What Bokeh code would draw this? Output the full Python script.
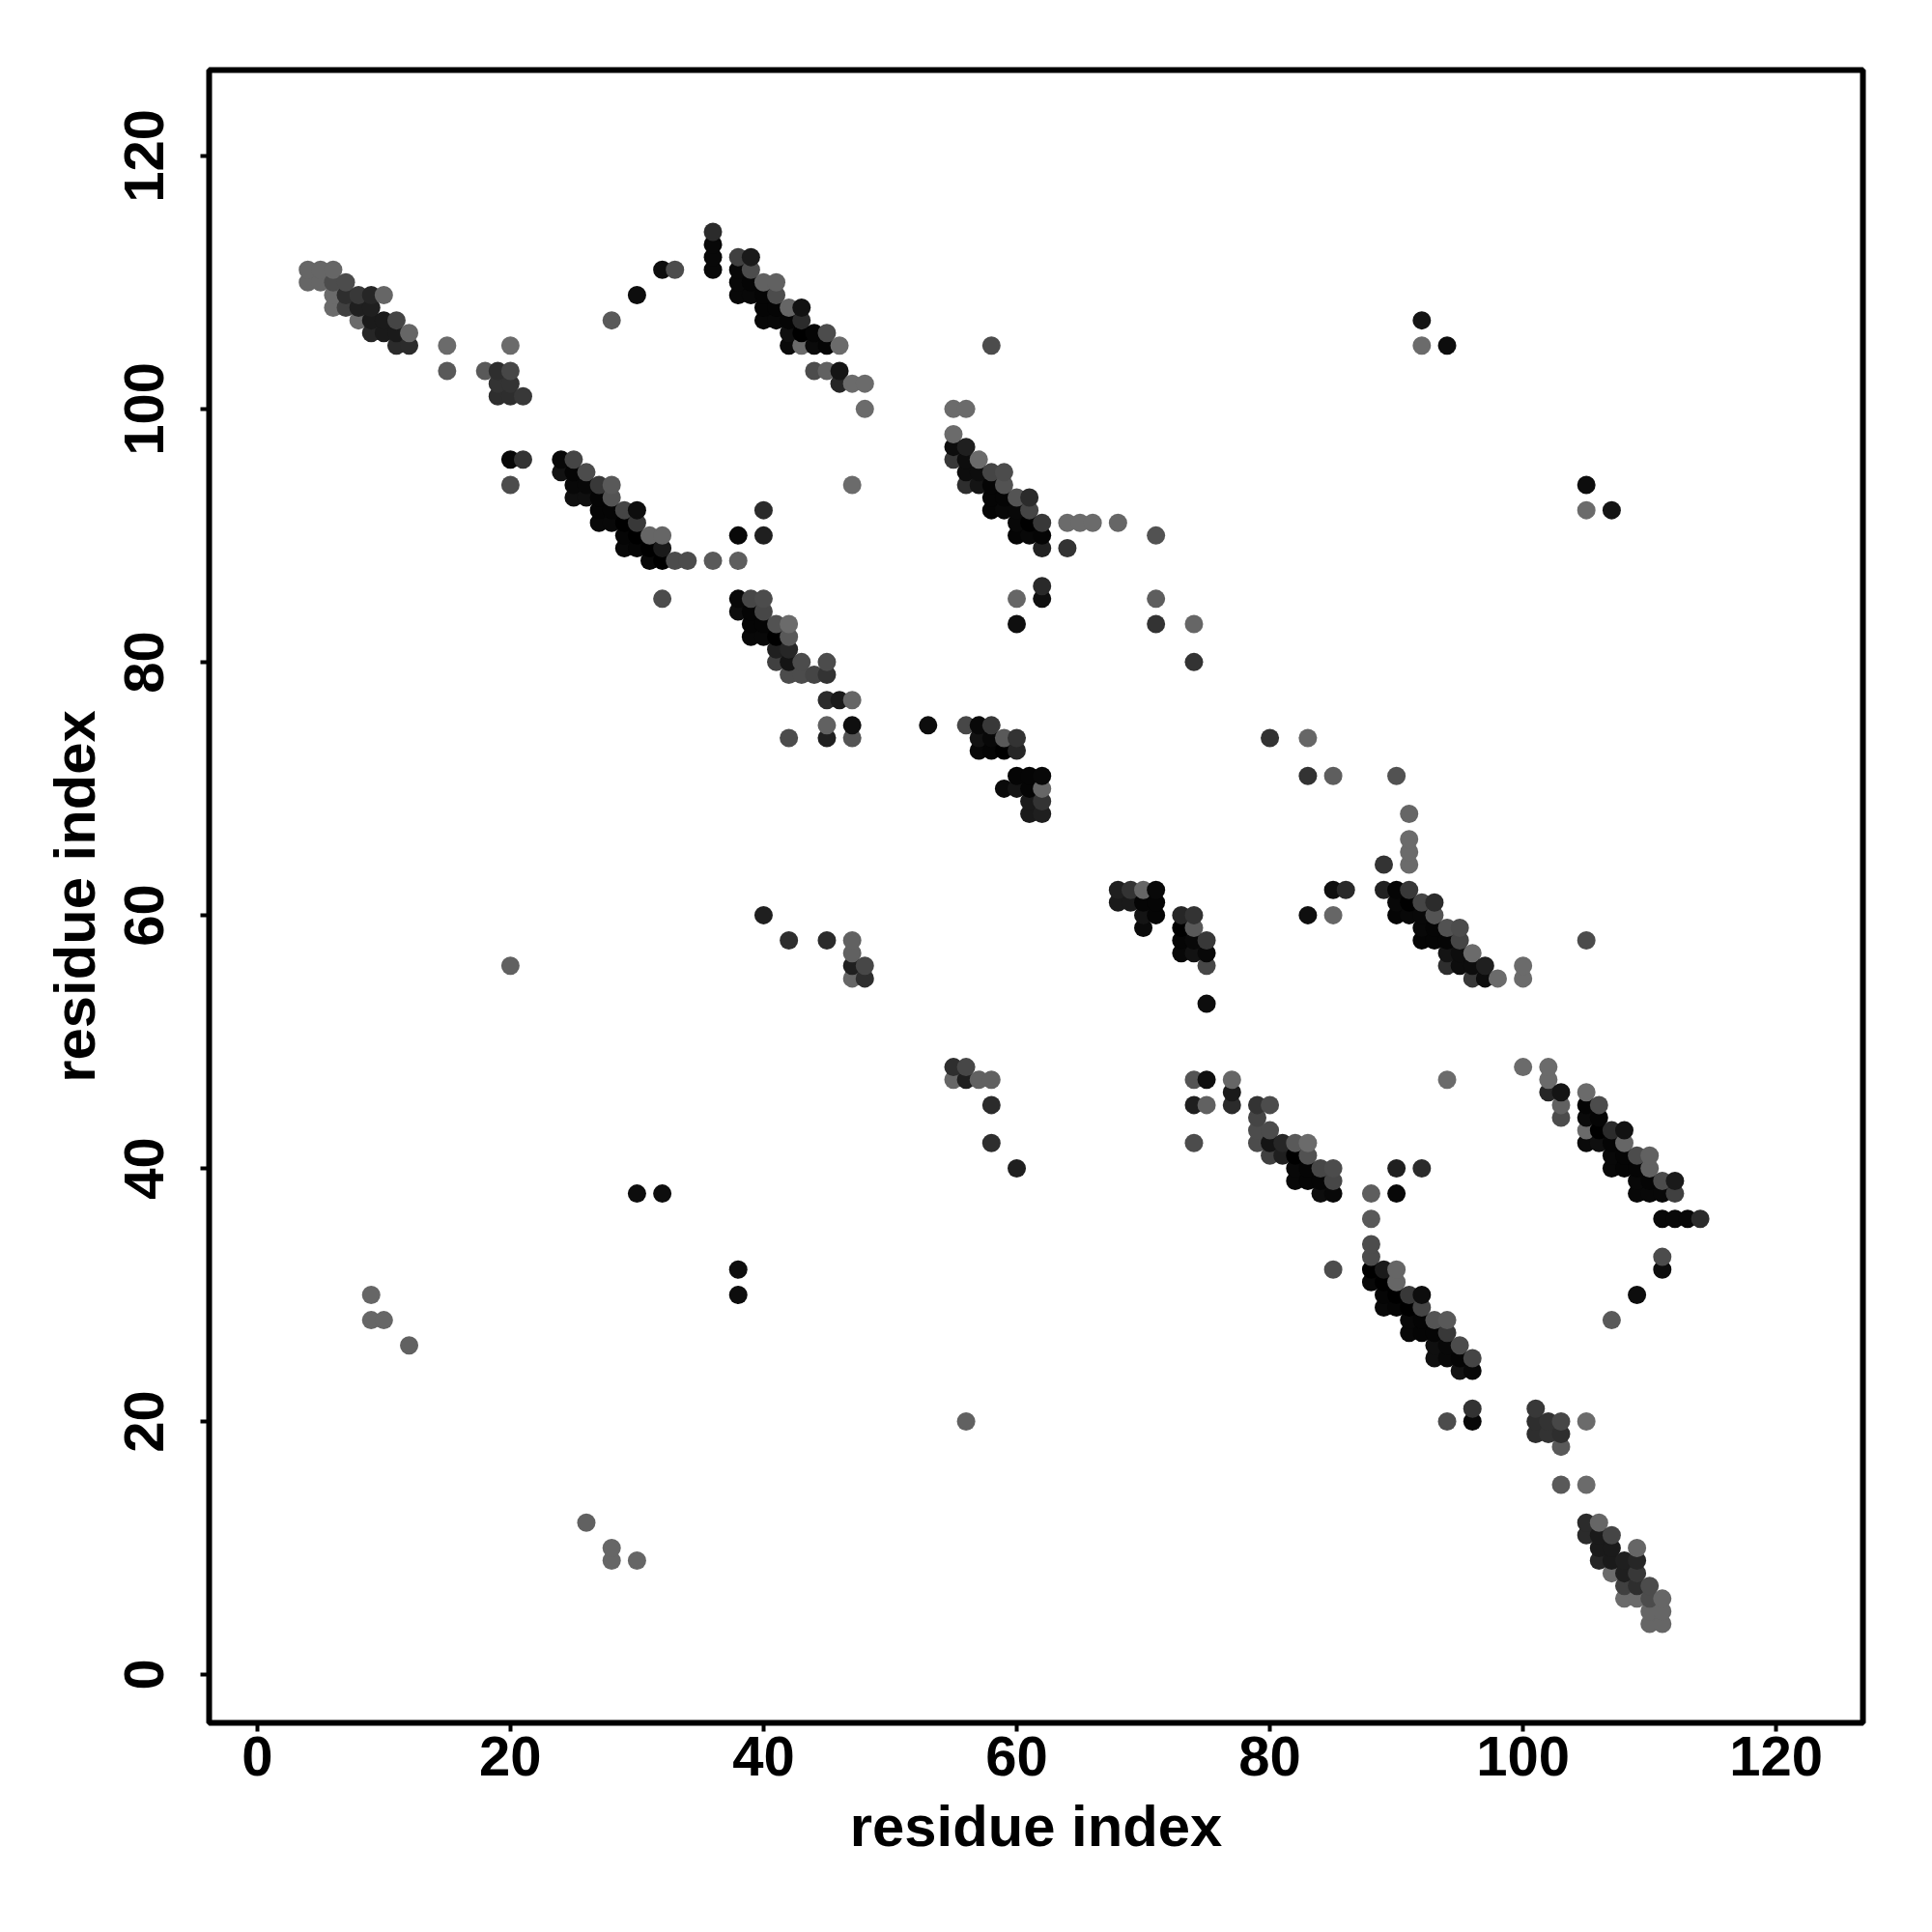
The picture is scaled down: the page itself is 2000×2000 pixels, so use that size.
from bokeh.plotting import figure
from bokeh.models import Range1d, FixedTicker, ColumnDataSource
from bokeh.embed import file_html
from bokeh.resources import INLINE

# contacts (i, j, grey level); the map is symmetric so each pair is listed once
residue_i = [
 4,5,6, 4,5,6,7, 6,7,8,9,10, 6,7,8,9, 8,9,10,11, 9,10,11,12, 11,12,
 15,15,20, 18,19,20, 19,20, 19,20,21,
 28,30,32,33, 36,36,36,36, 38,39, 38,39, 38,39,40,41, 38,39,40,41,
 40,41,42,43, 40,41,42,43, 42,43,44,45, 42,43,44,45,46, 44,45,46, 46,47,48, 48,
 20,20,21, 24,25, 24,25,26, 25,26,27,28, 25,26,27,28, 27,28,29,30, 27,28,29,30,
 29,30,31,32, 29,30,31,32, 31,32,33,34,36,38, 32, 38,38,40,40,47,
 38,39,40, 38,39,40, 39,40,41,42, 39,40,41,42, 41,42, 41,42,43,45, 42,43,44,45,
 45,46,47, 45,47, 42,45,47,
 40,42,45, 47,47,47,48,47,48,
 9,9,10,12, 20, 30,32,
 55,56, 55, 55,56, 55,56,57, 56,57,58,59, 56,57,58,59, 58,59,60,61, 58,59,60,61,
 60,61,62,64,65,66,68, 60,61,62,71, 62,64, 62,62,60,71,60,71,74,74,
 58, 53,56,57,58, 57,58,59,60, 57,58,59,60, 60,61,62, 59,60,61,62, 61,62, 61,62,
 92,92,94,
]
residue_j = [
 111,111,111, 110,110,110,110, 109,109,109,109,109, 108,108,108,108, 107,107,107,107, 106,106,106,106, 105,105,
 105,103,105, 103,103,103, 102,102, 101,101,101,
 107,109,111,111, 114,113,112,111, 112,112, 111,111, 110,110,110,110, 109,109,109,109,
 108,108,108,108, 107,107,107,107, 106,106,106,106, 105,105,105,105,105, 103,103,103, 102,102,102, 100,
 94,96,96, 96,96, 95,95,95, 94,94,94,94, 93,93,93,93, 92,92,92,92, 91,91,91,91,
 90,90,90,90, 89,89,89,89, 88,88,88,88,88,88, 85, 90,88,90,92,94,
 85,85,85, 84,84,84, 83,83,83,83, 82,82,82,82, 81,81, 80,80,80,80, 79,79,79,79,
 77,77,77, 75,75, 74,74,74,
 60,58,58, 58,57,56,56,55,55,
 30,28,28,26, 56, 38,38,
 100,100, 98, 97,97, 96,96,96, 95,95,95,95, 94,94,94,94, 93,93,93,93, 92,92,92,92,
 91,91,91,91,91,91,91, 90,90,90,90, 89,89, 86,85,85,85,83,83,83,80,
 105, 75,75,75,75, 74,74,74,74, 73,73,73,73, 71,71,71, 70,70,70,70, 69,69, 68,68,
 107,105,105,
]
shade = [
 .4,.4,.4, .4,.4,.3,.3, .42,.18,.22,.15,.4, .42,.25,.12,.12, .42,.1,.1,.27, .15,.1,.1,.4, .17,.17,
 .42,.35,.42, .35,.18,.28, .2,.2, .18,.18,.22,
 .35,.05,.05,.3, .17,.03,.03,.03, .25,.1, .03,.3, .03,.02,.38,.38, .03,.03,.02,.3,
 .02,.02,.4,.07, .03,.03,.02,.17, .06,0,.02,.3, .04,.42,.04,.02,.42, .3,.38,.08, .15,.42,.42, .42,
 .3,.03,.2, .03,.27, .07,.02,.3, .03,.03,.22,.35, .06,.06,.02,.33, .02,.02,.27,.05, .03,.03,0,.22,
 .02,0,.4,.4, .03,.02,0,.1, .03,0,.3,.3,.35,.37, .3, .03,.37,.12,.17,.42,
 .03,.28,.3, .05,.02,.28, .02,.02,.32,.42, .03,.03,0,.35, .12,.15, .25,.08,.3,.3, .3,.3,.27,.2,
 .17,.1,.4, .38,.06, .3,.12,.33,
 .12,.18,.17, .38,.38,.12,.28,.4,.18,
 .4,.4,.4,.38, .38, .05,.05,
 .42,.42, .42, .05,.12, .22,.05,.42, .05,.05,.27,.3, .18,.08,.02,.32, .02,.02,.33,.17, .02,.03,.03,.27,
 .03,0,.22,.42,.42,.42,.4, .02,.03,.02,.32, .13,.2, .16,.06,.4,.37,.06,.2,.4,.2,
 .3, .05,.28,.03,.22, .07,.03,.35,.2, .03,.02,0,.15, .02,.02,.03, .04,.08,.02,.4, .1,.2, .1,.12,
 .08,.42,.05,
]
x_ticks = [0, 20, 40, 60, 80, 100, 120]
y_ticks = [0, 20, 40, 60, 80, 100, 120]
axis_title = "residue index"

pairs = sorted(set(
    [(i, j, s) for i, j, s in zip(residue_i, residue_j, shade)] +
    [(j, i, s) for i, j, s in zip(residue_i, residue_j, shade)]
), key=lambda t: (t[0], t[1]))
src = ColumnDataSource(dict(
    x=[t[0] for t in pairs],
    y=[t[1] for t in pairs],
    c=["#%02x%02x%02x" % ((round(t[2] * 255),) * 3) for t in pairs],
))

p = figure(width=1984, height=1984, frame_width=1712, frame_height=1711,
           x_range=Range1d(-3.8, 126.85), y_range=Range1d(-3.82, 126.78),
           output_backend="svg", toolbar_location=None,
           min_border_left=216, min_border_top=72, min_border_right=56, min_border_bottom=64)
p.grid.visible = False
p.background_fill_color = "white"
p.outline_line_color = "black"
p.outline_line_width = 6
p.outline_line_alpha = 1

p.scatter("x", "y", source=src, size=19, fill_color="c", line_color=None)

for ax, t in ((p.xaxis[0], x_ticks), (p.yaxis[0], y_ticks)):
    ax.ticker = FixedTicker(ticks=t)
    ax.minor_tick_line_color = None
    ax.axis_line_color = None
    ax.major_tick_line_color = "black"
    ax.major_tick_line_width = 4
    ax.major_tick_out = 9
    ax.major_tick_in = 0
    ax.major_label_text_font = "Liberation Sans"
    ax.major_label_text_font_style = "bold"
    ax.major_label_text_font_size = "58px"
    ax.major_label_text_color = "black"
    ax.axis_label = axis_title
    ax.axis_label_text_font = "Liberation Sans"
    ax.axis_label_text_font_style = "bold"
    ax.axis_label_text_font_size = "59.8px"
    ax.axis_label_text_color = "black"
p.yaxis[0].major_label_orientation = "vertical"
p.xaxis[0].major_label_standoff = 5
p.yaxis[0].major_label_standoff = 38
p.xaxis[0].axis_label_standoff = 16
p.yaxis[0].axis_label_standoff = 16

open("out.html", "w").write(file_html(p, INLINE))
